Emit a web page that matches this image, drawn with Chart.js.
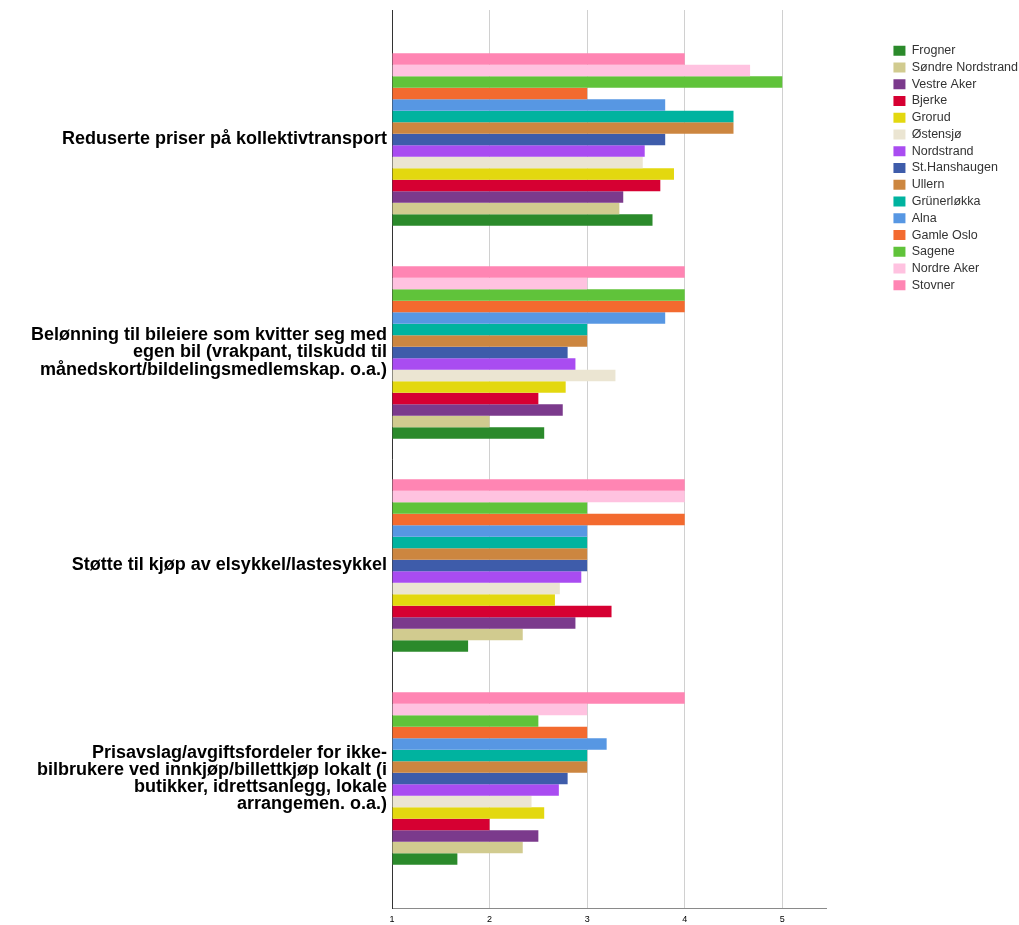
<!DOCTYPE html>
<html>
<head>
<meta charset="utf-8">
<script src="https://cdn.jsdelivr.net/npm/chart.js@4.4.0/dist/chart.umd.min.js"></script>
<style>
  body { margin: 0; background: #fff; }
  .chart-box { width: 1019px; height: 925px; }
</style>
</head>
<body>
<div class="chart-box"><canvas id="bar_chart"></canvas></div>
<script>
/* -----------------------
data
-------------------------- */
const categories = [
  ['Reduserte priser på kollektivtransport'],
  ['Belønning til bileiere som kvitter seg med', 'egen bil (vrakpant, tilskudd til', 'månedskort/bildelingsmedlemskap. o.a.)'],
  ['Støtte til kjøp av elsykkel/lastesykkel'],
  ['Prisavslag/avgiftsfordeler for ikke-', 'bilbrukere ved innkjøp/billettkjøp lokalt (i', 'butikker, idrettsanlegg, lokale', 'arrangemen. o.a.)']
];

const districts = ['Frogner', 'Søndre Nordstrand', 'Vestre Aker', 'Bjerke', 'Grorud', 'Østensjø', 'Nordstrand',
  'St.Hanshaugen', 'Ullern', 'Grünerløkka', 'Alna', 'Gamle Oslo', 'Sagene', 'Nordre Aker', 'Stovner'];

const colors = ['#2b8a2b', '#d1cb8f', '#7b3a8c', '#d60032', '#e3d80f', '#ebe5d2', '#a94cf1',
  '#3e5caa', '#cc8640', '#00b39f', '#5797e3', '#f36a2f', '#60c33a', '#ffc2e0', '#ff85b3'];

// one value per district, same order as districts
const kollektiv  = [3.67, 3.33, 3.37, 3.75, 3.89, 3.57, 3.59, 3.80, 4.50, 4.50, 3.80, 3.00, 5.00, 4.67, 4.00];
const belonning  = [2.56, 2.00, 2.75, 2.50, 2.78, 3.29, 2.88, 2.80, 3.00, 3.00, 3.80, 4.00, 4.00, 3.00, 4.00];
const elsykkel   = [1.78, 2.34, 2.88, 3.25, 2.67, 2.72, 2.94, 3.00, 3.00, 3.00, 3.00, 4.00, 3.00, 4.00, 4.00];
const prisavslag = [1.67, 2.34, 2.50, 2.00, 2.56, 2.43, 2.71, 2.80, 3.00, 3.00, 3.20, 3.00, 2.50, 3.00, 4.00];

const xTicks = [1, 2, 3, 4, 5];

/* -----------------------
bar chart
-------------------------- */
const groups = [kollektiv, belonning, elsykkel, prisavslag];

// first dataset is drawn on top of each group, so Stovner goes first
const datasets = districts.map((name, d) => ({
  label: name,
  data: groups.map((vals, i) => ({ x: vals[d], y: i })),
  backgroundColor: colors[d],
  borderWidth: 0,
  base: 1
})).reverse();

new Chart(document.getElementById('bar_chart'), {
  type: 'bar',
  data: { datasets: datasets },
  options: {
    indexAxis: 'y',
    responsive: true,
    maintainAspectRatio: false,
    animation: false,
    categoryPercentage: 0.81,
    barPercentage: 1,
    layout: { padding: { top: 10, right: -9, bottom: 0, left: 0 } },
    plugins: {
      tooltip: { enabled: false },
      legend: {
        position: 'right',
        align: 'start',
        reverse: true,
        title: { display: true, text: ' ', font: { size: 1 }, padding: { top: 29, bottom: 0 } },
        labels: {
          boxWidth: 12,
          boxHeight: 10,
          padding: 4.26,
          color: '#333',
          font: { family: 'Arial, "Liberation Sans", sans-serif', size: 12.5 }
        }
      }
    },
    scales: {
      x: {
        type: 'linear',
        min: 1,
        max: 5.45,
        afterBuildTicks: s => { s.ticks = xTicks.map(v => ({ value: v })); },
        afterFit: s => { s.height = 17; },
        grid: { color: '#d0d0d0', drawTicks: false },
        border: { color: '#8a8a8a' },
        ticks: { padding: 6, color: '#000', font: { family: 'Arial, "Liberation Sans", sans-serif', size: 9 } }
      },
      y: {
        type: 'linear',
        reverse: true,
        offset: false,
        min: -0.608,
        max: 3.608,
        afterBuildTicks: s => { s.ticks = categories.map((c, i) => ({ value: i })); },
        afterFit: s => {
          s.width = 392;
          s.paddingTop = 0;
          s.paddingBottom = 0;
        },
        grid: { display: false, drawTicks: false, offset: false },
        border: { color: '#333' },
        ticks: {
          autoSkip: false,
          padding: 5,
          color: '#000',
          font: { family: 'Arial, "Liberation Sans", sans-serif', size: 18, weight: 'bold', lineHeight: 0.95 },
          callback: v => categories[v]
        }
      },
      yRight: {
        position: 'right',
        display: true,
        grid: { display: false, drawTicks: false },
        border: { display: false },
        ticks: { display: false },
        afterFit: s => { s.width = 63; }
      }
    }
  }
});
</script>
</body>
</html>
